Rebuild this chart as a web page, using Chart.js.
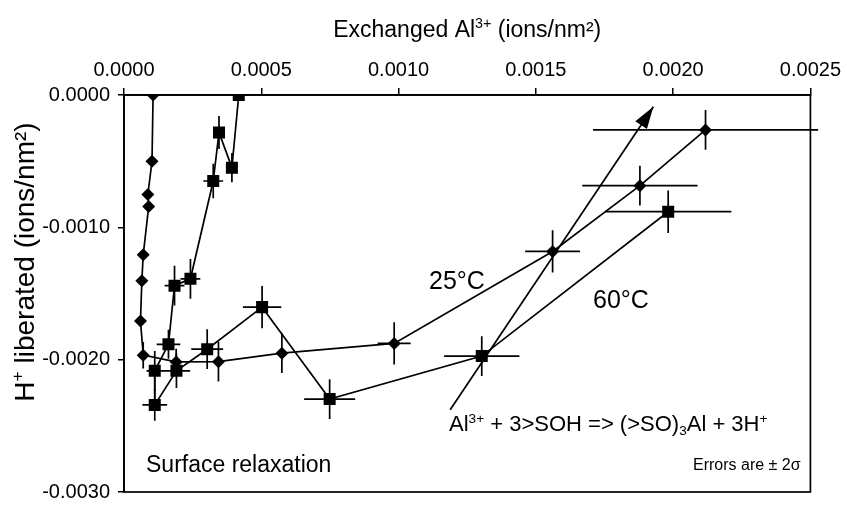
<!DOCTYPE html>
<html>
<head>
<meta charset="utf-8">
<script src="https://cdn.jsdelivr.net/npm/chart.js@4.4.1/dist/chart.umd.min.js"></script>
<style>
  html, body { margin: 0; padding: 0; background: #fff; }
  canvas { display: block; }
</style>
</head>
<body>
<canvas id="myChart" width="847" height="512"></canvas>
<script>
// 25°C run (diamonds): exchanged Al vs liberated H+, with 2-sigma half widths
const x25  = [0.000106, 0.000102, 0.000087, 0.000090, 0.000070, 0.000065, 0.000060, 0.000070, 0.000190, 0.000344, 0.000575, 0.000984, 0.001561, 0.001879, 0.002118];
const y25  = [0, -0.000500, -0.000752, -0.000842, -0.001207, -0.001404, -0.001707, -0.001966, -0.002017, -0.002015, -0.001951, -0.001877, -0.001182, -0.000685, -0.000264];
const ex25 = [0, 0, 0, 0, 0, 0, 0, 0.00001, 0.00001, 0, 0.00001, 0.00006, 0.00010, 0.00021, 0.00041];
const ey25 = [0, 0.00002, 0, 0, 0.00002, 0, 0, 0.00010, 0.00010, 0.00015, 0.00015, 0.00016, 0.00016, 0.00015, 0.00015];

// 60°C run (squares)
const x60  = [0.000418, 0.000393, 0.000346, 0.000325, 0.000242, 0.000184, 0.000162, 0.000112, 0.000112, 0.000191, 0.000303, 0.000503, 0.000749, 0.001303, 0.001982];
const y60  = [0, -0.000549, -0.000283, -0.000650, -0.001389, -0.001441, -0.001884, -0.002084, -0.002342, -0.002084, -0.001921, -0.001603, -0.002298, -0.001973, -0.000882];
const ex60 = [0, 0.000015, 0.00002, 0.000036, 0.000036, 0.000036, 0.000043, 0.00003, 0.000045, 0.00005, 0.000058, 0.00007, 0.000093, 0.000137, 0.00023];
const ey60 = [0, 0.00011, 0.000125, 0.00013, 0.00015, 0.00015, 0.00011, 0.00015, 0.00012, 0.00013, 0.00015, 0.00016, 0.00015, 0.00015, 0.00016];

// 3:1 stoichiometry arrow
const arrowX = [0.001188, 0.001928];
const arrowY = [-0.002379, -0.000089];

const xRange = [0, 0.0025];
const yRange = [-0.003, 0];

const FONT = "'Liberation Sans', Arial, Helvetica, sans-serif";

function pts(xs, ys) {
  return xs.map(function(x, i) { return {x: x, y: ys[i]}; });
}

// text with super/subscript pieces: [text, 0 normal | 1 sup | -1 sub]
function drawRich(ctx, parts, x, y, size, align) {
  var w = 0;
  parts.forEach(function(p) {
    ctx.font = (p[1] ? size * 0.62 : size) + 'px ' + FONT;
    w += ctx.measureText(p[0]).width;
  });
  var cx = align === 'center' ? x - w / 2 : x;
  parts.forEach(function(p) {
    var sz = p[1] ? size * 0.62 : size;
    ctx.font = sz + 'px ' + FONT;
    var dy = p[1] === 1 ? -size * 0.38 : (p[1] === -1 ? size * 0.2 : 0);
    ctx.fillText(p[0], cx, y + dy);
    cx += ctx.measureText(p[0]).width;
  });
}

const extras = {
  id: 'extras',
  beforeDatasetsDraw: function(chart) {
    var ctx = chart.ctx, sx = chart.scales.x, sy = chart.scales.y;
    ctx.save();
    ctx.strokeStyle = '#000';
    ctx.lineWidth = 1.7;
    [[x25, y25, ex25, ey25], [x60, y60, ex60, ey60]].forEach(function(s) {
      s[0].forEach(function(x, i) {
        var y = s[1][i], ex = s[2][i], ey = s[3][i];
        ctx.beginPath();
        if (ex > 0) {
          ctx.moveTo(sx.getPixelForValue(x - ex), sy.getPixelForValue(y));
          ctx.lineTo(sx.getPixelForValue(x + ex), sy.getPixelForValue(y));
        }
        if (ey > 0) {
          ctx.moveTo(sx.getPixelForValue(x), sy.getPixelForValue(y - ey));
          ctx.lineTo(sx.getPixelForValue(x), sy.getPixelForValue(y + ey));
        }
        ctx.stroke();
      });
    });
    ctx.restore();
  },
  afterDraw: function(chart) {
    var ctx = chart.ctx, a = chart.chartArea, sx = chart.scales.x, sy = chart.scales.y;
    ctx.save();
    ctx.strokeStyle = '#000';
    ctx.fillStyle = '#000';
    ctx.lineWidth = 1.7;
    ctx.strokeRect(a.left, a.top, a.right - a.left, a.bottom - a.top);

    // arrow head
    var x0 = sx.getPixelForValue(arrowX[0]), y0 = sy.getPixelForValue(arrowY[0]);
    var x1 = sx.getPixelForValue(arrowX[1]), y1 = sy.getPixelForValue(arrowY[1]);
    var ang = Math.atan2(y1 - y0, x1 - x0), len = 22, hw = 7;
    ctx.beginPath();
    ctx.moveTo(x1, y1);
    ctx.lineTo(x1 - len * Math.cos(ang) + hw * Math.sin(ang), y1 - len * Math.sin(ang) - hw * Math.cos(ang));
    ctx.lineTo(x1 - len * Math.cos(ang) - hw * Math.sin(ang), y1 - len * Math.sin(ang) + hw * Math.cos(ang));
    ctx.closePath();
    ctx.fill();

    ctx.textBaseline = 'alphabetic';
    // axis titles
    drawRich(ctx, [['Exchanged Al', 0], ['3+', 1], [' (ions/nm\u00b2)', 0]], (a.left + a.right) / 2, 37, 23, 'center');
    ctx.save();
    ctx.translate(34, 262);
    ctx.rotate(-Math.PI / 2);
    drawRich(ctx, [['H', 0], ['+', 1], [' liberated (ions/nm\u00b2)', 0]], 0, 0, 28, 'center');
    ctx.restore();

    // labels inside the plot
    drawRich(ctx, [['25\u00b0C', 0]], 429, 289, 25, 'left');
    drawRich(ctx, [['60\u00b0C', 0]], 593, 308, 25, 'left');
    drawRich(ctx, [['Al', 0], ['3+', 1], [' + 3>SOH => (>SO)', 0], ['3', -1], ['Al + 3H', 0], ['+', 1]], 449, 431, 22, 'left');
    drawRich(ctx, [['Surface relaxation', 0]], 146, 472, 23, 'left');
    drawRich(ctx, [['Errors are \u00b1 2\u03c3', 0]], 693, 470, 16, 'left');
    ctx.restore();
  }
};

new Chart('myChart', {
  type: 'scatter',
  data: {
    datasets: [{
      data: pts(arrowX, arrowY),
      showLine: true,
      borderColor: '#000',
      borderWidth: 1.7,
      pointRadius: 0
    }, {
      label: '60\u00b0C',
      data: pts(x60, y60),
      showLine: true,
      borderColor: '#000',
      backgroundColor: '#000',
      borderWidth: 1.7,
      pointStyle: 'rect',
      pointRadius: 8.5,
      pointBorderWidth: 0
    }, {
      label: '25\u00b0C',
      data: pts(x25, y25),
      showLine: true,
      borderColor: '#000',
      backgroundColor: '#000',
      borderWidth: 1.7,
      pointStyle: 'rectRot',
      pointRadius: 6.5,
      pointBorderWidth: 0
    }]
  },
  options: {
    responsive: false,
    animation: false,
    devicePixelRatio: 1,
    layout: {padding: {left: 0, right: 30, top: 0, bottom: 11}},
    plugins: {legend: {display: false}, tooltip: {enabled: false}},
    scales: {
      x: {
        type: 'linear',
        position: 'top',
        min: xRange[0],
        max: xRange[1],
        afterFit: function(scale) { scale.height = 95; },
        ticks: {
          stepSize: 0.0005,
          autoSkip: false,
          maxRotation: 0,
          padding: 6,
          color: '#000',
          font: {family: FONT, size: 20},
          callback: function(v) { return v.toFixed(4); }
        },
        grid: {drawOnChartArea: false, drawTicks: true, tickLength: 7, color: '#000', lineWidth: 1.5},
        border: {display: true, color: '#000', width: 1.7}
      },
      y: {
        type: 'linear',
        position: 'left',
        min: yRange[0],
        max: yRange[1],
        afterFit: function(scale) { scale.width = 124; },
        ticks: {
          stepSize: 0.001,
          padding: 8,
          color: '#000',
          font: {family: FONT, size: 20},
          callback: function(v) { return v.toFixed(4); }
        },
        grid: {drawOnChartArea: false, drawTicks: true, tickLength: 6, color: '#000', lineWidth: 1.5},
        border: {display: true, color: '#000', width: 1.7}
      }
    }
  },
  plugins: [extras]
});
</script>
</body>
</html>
